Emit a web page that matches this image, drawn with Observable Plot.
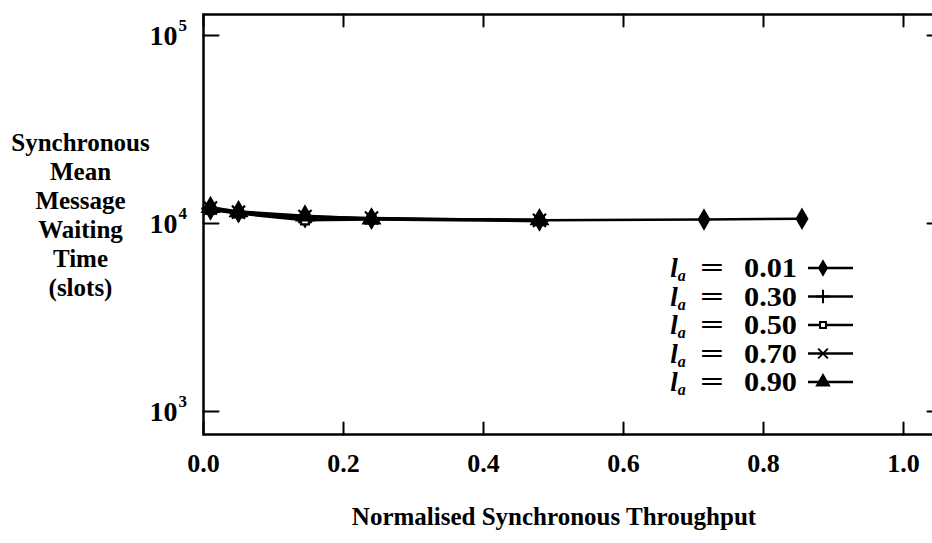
<!DOCTYPE html>
<html><head><meta charset="utf-8">
<script src="https://cdn.jsdelivr.net/npm/d3@7"></script>
<script src="https://cdn.jsdelivr.net/npm/@observablehq/plot@0.6"></script>
<style>html,body{margin:0;padding:0;background:#fff;overflow:hidden;width:932px;height:543px}#chart svg{max-width:none!important}</style>
</head><body><div id="chart"></div>
<script>
// ---- data ----
const seriesLabels = ["0.01", "0.30", "0.50", "0.70", "0.90"];
const xLong = [0.01, 0.05, 0.145, 0.24, 0.48, 0.715, 0.855];
const xShort = [0.01, 0.05, 0.145, 0.24, 0.48];
const wait001 = [11900, 11500, 10800, 10600, 10400, 10500, 10600];
const wait030 = [12000, 11400, 10700, 10600, 10400];
const wait050 = [11800, 11300, 10400, 10500, 10300];
const wait070 = [12100, 11500, 10900, 10700, 10400];
const wait090 = [12200, 11600, 11000, 10600, 10500];
const xTicks = [0, 0.2, 0.4, 0.6, 0.8, 1.0];
const yTicks = [1e3, 1e4, 1e5];
const yTitle = "Synchronous\nMean\nMessage\nWaiting\nTime\n(slots)";
const xTitle = "Normalised Synchronous Throughput";

const seriesX = [xLong, xShort, xShort, xShort, xShort];
const seriesY = [wait001, wait030, wait050, wait070, wait090];
const rows = seriesLabels.flatMap((s, i) => seriesX[i].map((x, j) => ({series: s, x, y: seriesY[i][j]})));

// ---- styles ----
const symbolStyle = {
  "0.01": {symbol: "diamond", fill: "black", stroke: "black", r: 5.5},
  "0.30": {symbol: "plus", fill: "none", stroke: "black", r: 6},
  "0.50": {symbol: "square2", fill: "white", stroke: "black", r: 5},
  "0.70": {symbol: "times", fill: "none", stroke: "black", r: 6},
  "0.90": {symbol: "triangle", fill: "black", stroke: "black", r: 6}
};
const d3Sym = {diamond: d3.symbolDiamond, plus: d3.symbolPlus, square2: d3.symbolSquare2, times: d3.symbolTimes, triangle: d3.symbolTriangle};

const font = "'Liberation Serif', 'Times New Roman', serif";
const W = 945, H = 543;
const mL = 203, mT = 14, mB = 109, mR = 5;
const tickShape = {draw(context, l) { context.moveTo(0, 0); context.lineTo(0, -l); }};

const marks = [
  Plot.frame({stroke: "black", strokeWidth: 2.5}),
  Plot.vector(xTicks, {x: d => d, frameAnchor: "bottom", rotate: 0, length: 12, anchor: "start", shape: tickShape, stroke: "black", strokeWidth: 2}),
  Plot.vector(xTicks, {x: d => d, frameAnchor: "top", rotate: 180, length: 12, anchor: "start", shape: tickShape, stroke: "black", strokeWidth: 2}),
  Plot.vector(yTicks, {y: d => d, frameAnchor: "left", rotate: 90, length: 15, anchor: "start", shape: tickShape, stroke: "black", strokeWidth: 2}),
  Plot.vector(yTicks, {y: d => d, frameAnchor: "right", rotate: -90, length: 13, anchor: "start", shape: tickShape, stroke: "black", strokeWidth: 2}),
  Plot.axisX(xTicks, {anchor: "bottom", tickSize: 0, tickPadding: 19, fontSize: 26, fontWeight: "bold", label: null, tickFormat: d3.format(".1f")}),
  Plot.text(yTicks, {y: d => d, text: () => "10", frameAnchor: "left", textAnchor: "end", dx: -26, fontSize: 28, fontWeight: "bold"}),
  Plot.text(yTicks, {y: d => d, text: d => String(Math.round(Math.log10(d))), frameAnchor: "left", textAnchor: "start", dx: -25, dy: -10, fontSize: 17, fontWeight: "bold"}),
  Plot.text([yTitle], {frameAnchor: "left", dx: -123, dy: -10, textAnchor: "middle", fontSize: 25, lineHeight: 1.16, fontWeight: "bold"}),
  Plot.text([xTitle], {frameAnchor: "bottom", dx: -18, dy: 90, textAnchor: "middle", fontSize: 25, fontWeight: "bold"})
];
for (const s of seriesLabels) {
  const d = rows.filter(r => r.series === s);
  marks.push(Plot.line(d, {x: "x", y: "y", stroke: "black", strokeWidth: 2.5}));
}
for (const s of seriesLabels) {
  const d = rows.filter(r => r.series === s);
  const st = symbolStyle[s];
  marks.push(Plot.dot(d, {x: "x", y: "y", symbol: st.symbol, fill: st.fill, stroke: st.stroke, strokeWidth: 2.2, r: st.r}));
}

const chart = Plot.plot({
  width: W, height: H,
  marginLeft: mL, marginTop: mT, marginBottom: mB, marginRight: mR,
  style: {fontFamily: font, fontWeight: "bold", background: "white", color: "black", maxWidth: "none"},
  x: {domain: [0, (W - mR - mL) / 700], axis: null},
  y: {type: "log", domain: [10 ** 2.878, 10 ** 5.112], axis: null},
  marks
});
chart.style.maxWidth = "none";
document.getElementById("chart").appendChild(chart);

// ---- legend ----
const svg = d3.select(chart);
const lg = svg.append("g").attr("font-family", font).attr("font-weight", "bold").attr("fill", "black");
seriesLabels.forEach((s, i) => {
  const cy = 268 + i * 28.5;
  const t = lg.append("text").attr("x", 678).attr("y", cy + 9).attr("font-size", 27).attr("font-style", "italic");
  t.append("tspan").text("l");
  t.append("tspan").attr("dy", 4).attr("font-size", 16).text("a");
  lg.append("text").attr("x", 712).attr("y", cy + 9).attr("font-size", 27)
    .attr("textLength", 24).attr("lengthAdjust", "spacingAndGlyphs").text("=");
  lg.append("text").attr("x", 797).attr("y", cy + 9).attr("font-size", 27)
    .attr("textLength", 53).attr("lengthAdjust", "spacingAndGlyphs").attr("text-anchor", "end").text(s);
  lg.append("line").attr("x1", 808).attr("x2", 853).attr("y1", cy).attr("y2", cy).attr("stroke", "black").attr("stroke-width", 2.5);
  const st = symbolStyle[s];
  const lr = st.r * 0.75;
  lg.append("path").attr("transform", `translate(823,${cy})`)
    .attr("d", d3.symbol(d3Sym[st.symbol], Math.PI * lr * lr)())
    .attr("fill", st.fill).attr("stroke", st.stroke).attr("stroke-width", 2);
});
</script>
</body></html>
